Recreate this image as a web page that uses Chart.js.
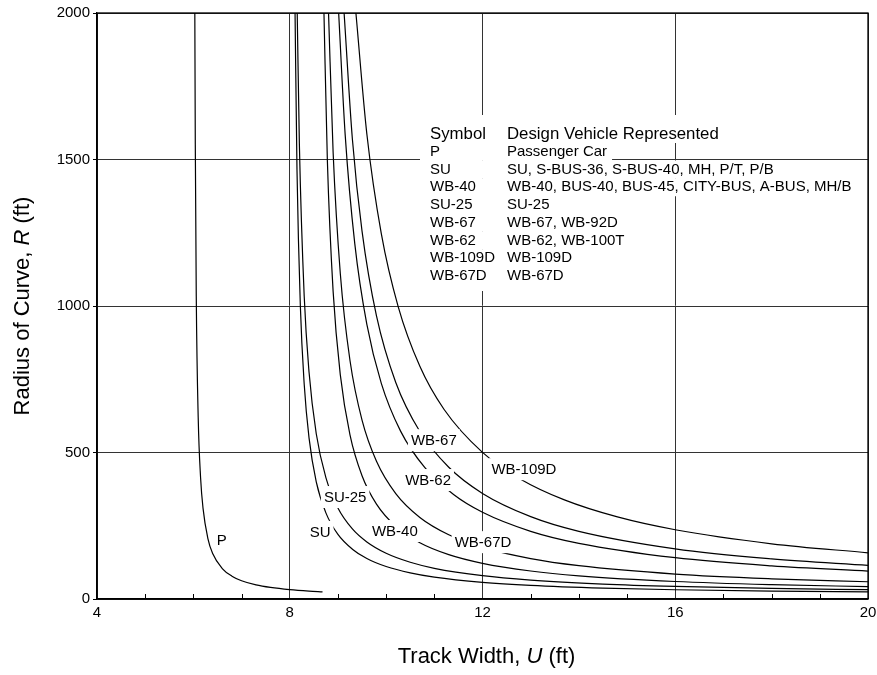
<!DOCTYPE html>
<html>
<head>
<meta charset="utf-8">
<title>Track width vs radius of curve</title>
<script src="https://cdn.jsdelivr.net/npm/chart.js@4.4.1/dist/chart.umd.min.js"></script>
<style>
  html, body { margin: 0; padding: 0; background: #fff; }
  canvas { display: block; }
</style>
</head>
<body>
<canvas id="chart" width="877" height="675"></canvas>
<script>
// --------------
// DATA  (track width U in ft, radius R in ft)
// --------------
const pU = [6.03, 6.04, 6.06, 6.10, 6.15, 6.20, 6.30, 6.40, 6.60, 6.80, 7.00, 7.30, 7.60, 8.00, 8.40, 8.68];
const pR = [2000, 1550, 1033, 620, 413, 310, 207, 155, 104, 78, 62.5, 48.3, 39.6, 32, 27, 24.5];

const suU = [8.11, 8.15, 8.22, 8.30, 8.40, 8.55, 8.75, 9.00, 9.30, 9.60, 10.0, 10.5, 11.0, 12.0, 13.0, 14.5, 16.0, 18.0, 20.0];
const suR = [2000, 1467, 1000, 733, 550, 400, 294, 220.5, 170, 138, 111, 89.3, 74.8, 57, 46.5, 37.1, 31.5, 27, 24.3];

const su25U = [8.155, 8.20, 8.30, 8.40, 8.55, 8.75, 9.00, 9.30, 9.60, 10.0, 10.5, 11.0, 12.0, 13.0, 14.5, 16.0, 18.0, 20.0];
const su25R = [2000, 1550, 1033, 775, 564, 414, 310.5, 239, 194.6, 156, 125.3, 104.8, 79.5, 64.5, 50.9, 42.8, 36, 31.8];

const wb40U = [8.71, 8.78, 8.90, 9.05, 9.25, 9.50, 9.80, 10.2, 10.7, 11.3, 12.0, 13.0, 14.0, 16.0, 18.0, 20.0];
const wb40R = [2000, 1500, 1050, 764, 560, 420.5, 323.7, 247.9, 192, 151.4, 121.8, 95.6, 79.1, 59.8, 49.0, 42.3];

const wb67dU = [8.805, 8.90, 9.05, 9.25, 9.50, 9.80, 10.2, 10.7, 11.3, 12.0, 13.0, 14.0, 16.0, 18.0, 20.0];
const wb67dR = [2000, 1525, 1109, 814, 610.5, 470, 359.7, 278.4, 219.3, 176, 137.8, 113.7, 85.1, 69, 58.8];

const wb62U = [9.015, 9.15, 9.35, 9.60, 9.90, 10.3, 10.8, 11.4, 12.0, 13.0, 14.0, 16.0, 18.0, 20.0];
const wb62R = [2000, 1585, 1212, 937, 736, 573, 449, 356.6, 296, 231, 190, 141, 113.2, 95.3];

const wb67U = [9.128, 9.30, 9.50, 9.80, 10.2, 10.7, 11.3, 12.0, 13.0, 14.0, 16.0, 18.0, 20.0];
const wb67R = [2000, 1569, 1255.5, 966, 739, 571.6, 449.6, 360.3, 281.1, 230.9, 171.1, 136.9, 114.9];

const wb109dU = [9.373, 9.60, 9.90, 10.25, 10.7, 11.2, 12.0, 12.8, 13.7, 14.8, 16.0, 18.0, 20.0];
const wb109dR = [2000, 1587, 1247, 998, 794, 647.6, 500.3, 408, 338.2, 280.1, 236.4, 188.4, 157.5];

// labels written on the curves
const curveLabels = ['P', 'SU', 'SU-25', 'WB-40', 'WB-67', 'WB-62', 'WB-109D', 'WB-67D'];
const labelU = [6.59, 8.63, 9.15, 10.18, 10.99, 10.87, 12.86, 12.01];
const labelR = [201, 229, 348, 232, 542, 406, 443, 194];

// legend table
const legendHead = ['Symbol', 'Design Vehicle Represented'];
const legendSymbols = ['P', 'SU', 'WB-40', 'SU-25', 'WB-67', 'WB-62', 'WB-109D', 'WB-67D'];
const legendVehicles = [
  'Passenger Car',
  'SU, S-BUS-36, S-BUS-40, MH, P/T, P/B',
  'WB-40, BUS-40, BUS-45, CITY-BUS, A-BUS, MH/B',
  'SU-25',
  'WB-67, WB-92D',
  'WB-62, WB-100T',
  'WB-109D',
  'WB-67D'
];

const xTicks = [4, 8, 12, 16, 20];
const yTicks = [0, 500, 1000, 1500, 2000];

const FONT = '"Liberation Sans", Arial, Helvetica, sans-serif';

// --------------
// DATASETS
// --------------
const curves = [
  [pU, pR], [suU, suR], [su25U, su25R], [wb40U, wb40R],
  [wb67U, wb67R], [wb62U, wb62R], [wb109dU, wb109dR], [wb67dU, wb67dR]
];

const datasets = curves.map((c, i) => ({
  label: curveLabels[i],
  data: c[0].map((u, j) => ({ x: u, y: c[1][j] })),
  showLine: true,
  borderColor: '#000',
  borderWidth: 1.2,
  pointRadius: 0,
  cubicInterpolationMode: 'monotone',
  fill: false
}));

// --------------
// OVERLAY: minor ticks, curve labels, legend table, axis titles, frame
// --------------
function drawMixed(ctx, parts, cx, cy, size) {
  let total = 0;
  parts.forEach(p => {
    ctx.font = (p[1] ? 'italic ' : '') + size + 'px ' + FONT;
    total += ctx.measureText(p[0]).width;
  });
  let xx = cx - total / 2;
  parts.forEach(p => {
    ctx.font = (p[1] ? 'italic ' : '') + size + 'px ' + FONT;
    ctx.fillText(p[0], xx, cy);
    xx += ctx.measureText(p[0]).width;
  });
}

const overlay = {
  id: 'overlay',
  afterDatasetsDraw(chart) {
    const { ctx, chartArea: a, scales: { x, y } } = chart;
    ctx.save();

    // minor ticks on the x axis, pointing inward
    ctx.strokeStyle = '#000';
    ctx.lineWidth = 1;
    for (let v = x.min + 1; v < x.max; v++) {
      if (xTicks.includes(v)) continue;
      const px = Math.round(x.getPixelForValue(v)) + 0.5;
      ctx.beginPath();
      ctx.moveTo(px, a.bottom);
      ctx.lineTo(px, a.bottom - 5);
      ctx.stroke();
    }

    // curve labels on white patches
    ctx.font = '15px ' + FONT;
    ctx.textAlign = 'center';
    ctx.textBaseline = 'middle';
    curveLabels.forEach((t, i) => {
      const px = x.getPixelForValue(labelU[i]);
      const py = y.getPixelForValue(labelR[i]);
      const w = ctx.measureText(t).width;
      ctx.fillStyle = '#fff';
      ctx.fillRect(px - w / 2 - 3, py - 11, w + 6, 22);
      ctx.fillStyle = '#000';
      ctx.fillText(t, px, py + 1);
    });

    // legend table
    const lx0 = a.left + 323, lx1 = a.left + 333, lx2 = a.left + 410;
    const ly0 = a.top + 121, step = 17.75;
    ctx.textAlign = 'left';
    const rows = [legendHead].concat(legendSymbols.map((s, i) => [s, legendVehicles[i]]));
    const fontFor = i => (i === 0 ? '16.8px ' : '15px ') + FONT;
    ctx.fillStyle = '#fff';
    rows.forEach((r, i) => {
      ctx.font = fontFor(i);
      const cy = ly0 + i * step;
      const w = ctx.measureText(r[1]).width;
      const top = i === 0 ? cy - 19 : cy - 9;
      const bot = i === rows.length - 1 ? cy + 15 : cy + 9;
      ctx.fillRect(lx0, top, lx2 + w + 5 - lx0, bot - top);
    });
    ctx.fillStyle = '#000';
    rows.forEach((r, i) => {
      ctx.font = fontFor(i);
      const cy = ly0 + i * step;
      ctx.fillText(r[0], lx1, cy);
      ctx.fillText(r[1], lx2, cy);
    });

    ctx.restore();
  },
  afterDraw(chart) {
    const { ctx, chartArea: a } = chart;
    ctx.save();
    // plot frame
    ctx.strokeStyle = '#000';
    ctx.lineWidth = 1.3;
    ctx.strokeRect(a.left, a.top, a.right - a.left, a.bottom - a.top);

    // axis titles with italic symbols
    ctx.fillStyle = '#000';
    ctx.textAlign = 'left';
    ctx.textBaseline = 'middle';
    drawMixed(ctx, [['Track Width, ', false], ['U', true], [' (ft)', false]], (a.left + a.right) / 2 + 4, 657, 22);
    ctx.translate(23, (a.top + a.bottom) / 2);
    ctx.rotate(-Math.PI / 2);
    drawMixed(ctx, [['Radius of Curve, ', false], ['R', true], [' (ft)', false]], 0, 0, 22);
    ctx.restore();
  }
};

// --------------
// CHART
// --------------
new Chart(document.getElementById('chart').getContext('2d'), {
  type: 'scatter',
  data: { datasets },
  plugins: [overlay],
  options: {
    responsive: false,
    animation: false,
    layout: { autoPadding: false, padding: { top: 13, right: 9, left: 0, bottom: 0 } },
    plugins: { legend: { display: false }, tooltip: { enabled: false } },
    scales: {
      x: {
        type: 'linear',
        min: 4, max: 20,
        afterFit: s => { s.height = 76; s.paddingLeft = 0; s.paddingRight = 0; },
        afterBuildTicks: s => { s.ticks = [4,5,6,7,8,9,10,11,12,13,14,15,16,17,18,19,20].map(v => ({ value: v })); },
        ticks: {
          autoSkip: false, maxRotation: 0, padding: 5,
          color: '#000', font: { size: 15, family: FONT },
          callback: v => xTicks.includes(v) ? String(v) : ''
        },
        grid: {
          drawTicks: false,
          lineWidth: 1,
          color: c => (c.tick && xTicks.includes(c.tick.value)) ? '#333' : 'rgba(0,0,0,0)'
        },
        border: { color: '#000', width: 1.3 }
      },
      y: {
        min: 0, max: 2000,
        afterFit: s => { s.width = 97; s.paddingTop = 0; s.paddingBottom = 0; },
        afterBuildTicks: s => { s.ticks = yTicks.map(v => ({ value: v })); },
        ticks: {
          padding: 3, color: '#000', font: { size: 15, family: FONT },
          callback: v => String(v)
        },
        grid: { color: '#333', lineWidth: 1, tickLength: 4, tickColor: '#000' },
        border: { color: '#000', width: 1.3 }
      }
    }
  }
});
</script>
</body>
</html>
